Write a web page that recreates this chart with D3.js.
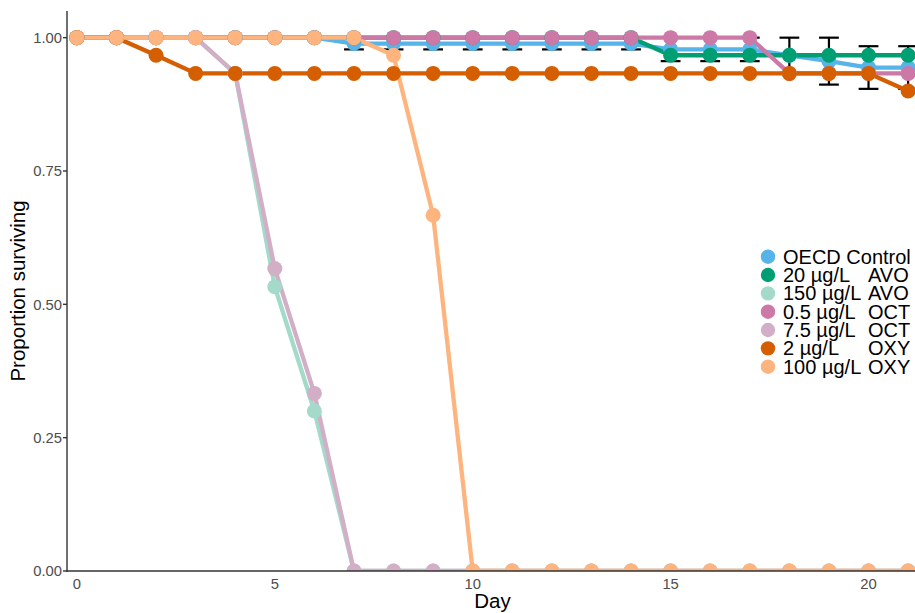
<!DOCTYPE html>
<html>
<head>
<meta charset="utf-8">
<script src="https://cdn.jsdelivr.net/npm/d3@7"></script>
<style>
  html, body { margin: 0; padding: 0; background: #fff; }
  svg { display: block; font-family: "Liberation Sans", Arial, sans-serif; }
</style>
</head>
<body>
<svg id="chart" width="915" height="613"></svg>
<script>
// --- data ---
const days = [0, 1, 2, 3, 4, 5, 6, 7, 8, 9, 10, 11, 12, 13, 14, 15, 16, 17, 18, 19, 20, 21];

const oecdControl = [1, 1, 1, 1, 1, 1, 1, 0.989, 0.989, 0.989, 0.989, 0.989, 0.989, 0.989, 0.989, 0.978, 0.978, 0.978, 0.967, 0.956, 0.944, 0.944];
const oecdControlSE = [0, 0, 0, 0, 0, 0, 0, 0.011, 0.011, 0.011, 0.011, 0.011, 0.011, 0.011, 0.011, 0.022, 0.022, 0.022, 0.033, 0.044, 0.040, 0.040];
const avo20 = [1, 1, 1, 1, 1, 1, 1, 1, 1, 1, 1, 1, 1, 1, 1, 0.967, 0.967, 0.967, 0.967, 0.967, 0.967, 0.967];
const avo150 = [1, 1, 1, 1, 0.933, 0.533, 0.3, 0, 0, 0, 0, 0, 0, 0, 0, 0, 0, 0, 0, 0, 0, 0];
const oct05 = [1, 1, 1, 1, 1, 1, 1, 1, 1, 1, 1, 1, 1, 1, 1, 1, 1, 1, 0.933, 0.933, 0.933, 0.933];
const oct75 = [1, 1, 1, 1, 0.933, 0.567, 0.333, 0, 0, 0, 0, 0, 0, 0, 0, 0, 0, 0, 0, 0, 0, 0];
const oxy2 = [1, 1, 0.967, 0.933, 0.933, 0.933, 0.933, 0.933, 0.933, 0.933, 0.933, 0.933, 0.933, 0.933, 0.933, 0.933, 0.933, 0.933, 0.933, 0.933, 0.933, 0.9];
const oxy100 = [1, 1, 1, 1, 1, 1, 1, 1, 0.967, 0.667, 0, 0, 0, 0, 0, 0, 0, 0, 0, 0, 0, 0];

const seriesNames = ["OECD Control", "20 µg/L", "150 µg/L", "0.5 µg/L", "7.5 µg/L", "2 µg/L", "100 µg/L"];
const seriesCodes = ["", "AVO", "AVO", "OCT", "OCT", "OXY", "OXY"];
const seriesColors = ["#56B4E9", "#009E73", "#A3DACA", "#CC79A7", "#D2AFC6", "#D55E00", "#FDB47E"];
const seriesValues = [oecdControl, avo20, avo150, oct05, oct75, oxy2, oxy100];

const yTicks = [0, 0.25, 0.5, 0.75, 1];
const xTicks = [0, 5, 10, 15, 20];

// --- layout ---
const svg = d3.select("#chart");
const panel = { left: 67, right: 918, top: 11, bottom: 571 };

const x = d3.scaleLinear().domain([-0.25, 21.25]).range([panel.left, panel.right]);
const y = d3.scaleLinear().domain([0, 1.05]).range([panel.bottom, panel.top]);

const series = seriesValues.map((vals, i) => ({
    name: seriesNames[i],
    code: seriesCodes[i],
    color: seriesColors[i],
    points: days.map((d, j) => ({ day: d, value: vals[j] }))
}));

svg.append("defs").append("clipPath").attr("id", "panel-clip")
    .append("rect")
    .attr("x", panel.left).attr("y", panel.top)
    .attr("width", panel.right - panel.left).attr("height", panel.bottom - panel.top);

const plot = svg.append("g").attr("clip-path", "url(#panel-clip)");

// error bars (only the control has spread)
const errData = days.map((d, j) => ({ day: d, value: oecdControl[j], se: oecdControlSE[j] })).filter(d => d.se > 0);
const capHalf = x(0.25) - x(0);
const eb = plot.append("g").attr("stroke", "#000").attr("stroke-width", 2.2).attr("fill", "none");
errData.forEach(d => {
    const top = y(d.value + d.se), bot = y(d.value - d.se), cx = x(d.day);
    eb.append("line").attr("x1", cx).attr("x2", cx).attr("y1", top).attr("y2", bot);
    eb.append("line").attr("x1", cx - capHalf).attr("x2", cx + capHalf).attr("y1", top).attr("y2", top);
    eb.append("line").attr("x1", cx - capHalf).attr("x2", cx + capHalf).attr("y1", bot).attr("y2", bot);
});

const lineGen = d3.line().x(d => x(d.day)).y(d => y(d.value));

plot.append("g").selectAll("path").data(series).join("path")
    .attr("d", d => lineGen(d.points))
    .attr("fill", "none")
    .attr("stroke", d => d.color)
    .attr("stroke-width", 4.3)
    .attr("stroke-linejoin", "round");

series.forEach(s => {
    plot.append("g").selectAll("circle").data(s.points).join("circle")
        .attr("cx", d => x(d.day))
        .attr("cy", d => y(d.value))
        .attr("r", 7.5)
        .attr("fill", s.color);
});

// --- axes ---
const axisColor = "#333333";
svg.append("line")
    .attr("x1", panel.left).attr("x2", panel.left)
    .attr("y1", panel.top).attr("y2", panel.bottom + 0.7)
    .attr("stroke", axisColor).attr("stroke-width", 1.4);
svg.append("line")
    .attr("x1", panel.left - 0.7).attr("x2", 915)
    .attr("y1", panel.bottom).attr("y2", panel.bottom)
    .attr("stroke", axisColor).attr("stroke-width", 1.4);

const yAxisG = svg.append("g");
yTicks.forEach(t => {
    yAxisG.append("line")
        .attr("x1", panel.left - 4).attr("x2", panel.left)
        .attr("y1", y(t)).attr("y2", y(t))
        .attr("stroke", axisColor).attr("stroke-width", 1.4);
    yAxisG.append("text")
        .attr("x", panel.left - 5).attr("y", y(t))
        .attr("dy", "0.36em")
        .attr("text-anchor", "end")
        .attr("font-size", 14.8)
        .attr("fill", "#4D4D4D")
        .text(d3.format(".2f")(t));
});

const xAxisG = svg.append("g");
xTicks.forEach(t => {
    xAxisG.append("text")
        .attr("x", x(t)).attr("y", 589)
        .attr("text-anchor", "middle")
        .attr("font-size", 14.8)
        .attr("fill", "#4D4D4D")
        .text(t);
});

svg.append("text")
    .attr("x", (panel.left + panel.right) / 2).attr("y", 608)
    .attr("text-anchor", "middle")
    .attr("font-size", 20.5)
    .attr("fill", "#000")
    .text("Day");

svg.append("text")
    .attr("transform", `translate(25, ${(panel.top + panel.bottom) / 2}) rotate(-90)`)
    .attr("text-anchor", "middle")
    .attr("font-size", 20.5)
    .attr("fill", "#000")
    .text("Proportion surviving");

// --- legend ---
const legend = svg.append("g");
const legendTop = 256.7, legendStep = 18.33;
series.forEach((s, i) => {
    const cy = legendTop + i * legendStep;
    legend.append("circle").attr("cx", 768).attr("cy", cy).attr("r", 7.2).attr("fill", s.color);
    const t = legend.append("text")
        .attr("x", 783).attr("y", cy + 7)
        .attr("font-size", 20)
        .attr("fill", "#000");
    t.append("tspan").text(s.name);
    if (s.code) t.append("tspan").attr("x", 868).text(s.code);
});
</script>
</body>
</html>
